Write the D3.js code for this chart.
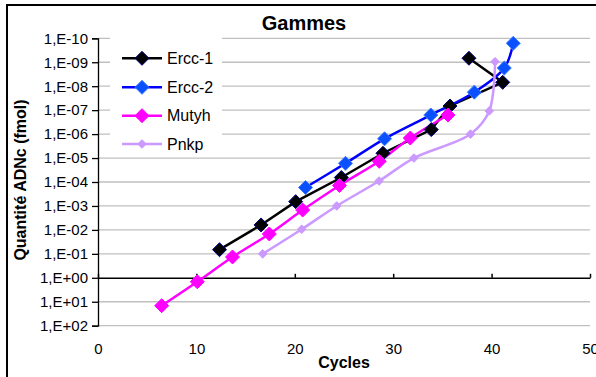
<!DOCTYPE html>
<html><head><meta charset="utf-8">
<script src="https://cdn.jsdelivr.net/npm/d3@7"></script>
<style>body{margin:0;background:#fff}svg{display:block}text{font-family:"Liberation Sans",Arial,sans-serif}</style>
</head><body>
<script>
// ---- data ----
const seriesNames = ["Ercc-1", "Ercc-2", "Mutyh", "Pnkp"];
const erccOneCycles = [12.35, 16.57, 20.09, 24.73, 28.96, 33.87, 35.77, 41.13, 37.70];
const erccOneQty    = [6.7e-2, 6.2e-3, 6.6e-4, 6.5e-5, 6.3e-6, 6.5e-7, 6.7e-8, 6.9e-9, 6.8e-10];
const erccTwoCycles = [21.09, 25.15, 29.12, 33.82, 38.24, 41.29, 42.20];
const erccTwoQty    = [1.7e-4, 1.66e-5, 1.57e-6, 1.6e-7, 1.78e-8, 1.74e-9, 1.62e-10];
const mutyhCycles   = [6.47, 10.09, 13.67, 17.41, 20.80, 24.54, 28.58, 31.74, 35.57];
const mutyhQty      = [14.6, 1.46, 0.135, 1.48e-2, 1.48e-3, 1.4e-4, 1.37e-5, 1.46e-6, 1.6e-7];
const pnkpCycles    = [16.74, 20.70, 24.26, 28.56, 32.11, 37.86, 39.76, 40.35];
const pnkpQty       = [1e-1, 9.4e-3, 1e-3, 9.1e-5, 1e-5, 1e-6, 1.08e-7, 9.5e-10];
const xTicks = [0, 10, 20, 30, 40, 50];
const yExponents = [-10, -9, -8, -7, -6, -5, -4, -3, -2, -1, 0, 1, 2];
const titleText = "Gammes";
const xTitle = "Cycles";
const yTitle = "Quantité ADNc (fmol)";

// ---- layout / style ----
const W = 596, H = 377;
const L = 98, R = 590, T = 38.3, B = 325.7;
const styles = [
  {line:"#000000", fill:"#000000", stroke:"#000080", r:7, curve:d3.curveLinear},
  {line:"#0000ff", fill:"#0a50ff", stroke:"#3a7bff", r:7, curve:d3.curveCatmullRom.alpha(0.5)},
  {line:"#ff00ff", fill:"#ff00ff", stroke:"#ff00ff", r:7, curve:d3.curveCatmullRom.alpha(0.5)},
  {line:"#cc99ff", fill:"#cc99ff", stroke:"#cc99ff", r:4.3, curve:d3.curveCatmullRom.alpha(0.5)}
];
const series = [
  erccOneCycles.map((c,i)=>({x:c, y:erccOneQty[i]})),
  erccTwoCycles.map((c,i)=>({x:c, y:erccTwoQty[i]})),
  mutyhCycles.map((c,i)=>({x:c, y:mutyhQty[i]})),
  pnkpCycles.map((c,i)=>({x:c, y:pnkpQty[i]}))
];

const x = d3.scaleLinear().domain([0, 50]).range([L, R]);
const y = d3.scaleLog().domain([1e-10, 1e2]).range([T, B]);
const yVals = yExponents.map(e => Math.pow(10, e));
const fmt = v => {
  const e = Math.round(Math.log10(v));
  return "1,E" + (e < 0 ? "-" : "+") + String(Math.abs(e)).padStart(2, "0");
};

const svg = d3.select("body").append("svg").attr("width", W).attr("height", H);
svg.append("rect").attr("width", W).attr("height", H).attr("fill", "#fff");
svg.append("rect").attr("x", 7).attr("y", 5).attr("width", 620).attr("height", 420)
  .attr("fill", "none").attr("stroke", "#000").attr("stroke-width", 2);

// gridlines
svg.append("g").selectAll("line").data(yVals.filter(v => v !== 1)).join("line")
  .attr("x1", L).attr("x2", R).attr("y1", d => y(d)).attr("y2", d => y(d))
  .attr("stroke", "#c0c0c0").attr("stroke-width", 1.3);

// y axis
const gy = svg.append("g").attr("transform", `translate(${L},0)`)
  .call(d3.axisLeft(y).tickValues(yVals).tickFormat(fmt).tickSize(6).tickPadding(4));
gy.selectAll("text").attr("font-size", 15).attr("fill", "#000");
gy.selectAll("line,path").attr("stroke", "#000").attr("stroke-width", 1.3);

// x axis line at 1E+00 with ticks
const gx = svg.append("g").attr("transform", `translate(0,${y(1)})`)
  .call(d3.axisTop(x).tickValues(xTicks).tickSize(4).tickSizeOuter(0).tickFormat(""));
gx.selectAll("line,path").attr("stroke", "#000").attr("stroke-width", 1.5);
// x labels at bottom
const gxl = svg.append("g").attr("transform", `translate(0,${B})`)
  .call(d3.axisBottom(x).tickValues(xTicks).tickSize(0).tickPadding(18));
gxl.select(".domain").remove();
gxl.selectAll("text").attr("font-size", 15).attr("fill", "#000");

// titles
svg.append("text").attr("x", 304).attr("y", 30).attr("text-anchor", "middle")
  .attr("font-size", 20).attr("font-weight", "bold").text(titleText);
svg.append("text").attr("x", 344).attr("y", 368).attr("text-anchor", "middle")
  .attr("font-size", 16).attr("font-weight", "bold").text(xTitle);
svg.append("text").attr("transform", "translate(26,180) rotate(-90)").attr("text-anchor", "middle")
  .attr("font-size", 16).attr("font-weight", "bold").text(yTitle);

const diamond = r => `M0,${-r}L${r},0L0,${r}L${-r},0Z`;

// legend background
svg.append("rect").attr("x", 110).attr("y", 36).attr("width", 112).attr("height", 120).attr("fill", "#fff");

// series
series.forEach((pts, i) => {
  const s = styles[i];
  svg.append("path").datum(pts)
    .attr("d", d3.line().x(d => x(d.x)).y(d => y(d.y)).curve(s.curve))
    .attr("fill", "none").attr("stroke", s.line).attr("stroke-width", 2.5);
});
series.forEach((pts, i) => {
  const s = styles[i];
  svg.append("g").selectAll("path").data(pts).join("path")
    .attr("transform", d => `translate(${x(d.x)},${y(d.y)})`)
    .attr("d", diamond(s.r)).attr("fill", s.fill).attr("stroke", s.stroke).attr("stroke-width", 1);
});

// legend
const legY = [58.3, 87.3, 115.7, 144];
seriesNames.forEach((name, i) => {
  const s = styles[i];
  const g = svg.append("g").attr("transform", `translate(0,${legY[i]})`);
  g.append("line").attr("x1", 122).attr("x2", 162).attr("stroke", s.line).attr("stroke-width", 2.5);
  g.append("path").attr("transform", "translate(142,0)").attr("d", diamond(s.r))
    .attr("fill", s.fill).attr("stroke", s.stroke).attr("stroke-width", 1);
  g.append("text").attr("x", 167).attr("y", 0).attr("dy", "0.35em").attr("font-size", 16).text(name);
});
</script>
</body></html>
